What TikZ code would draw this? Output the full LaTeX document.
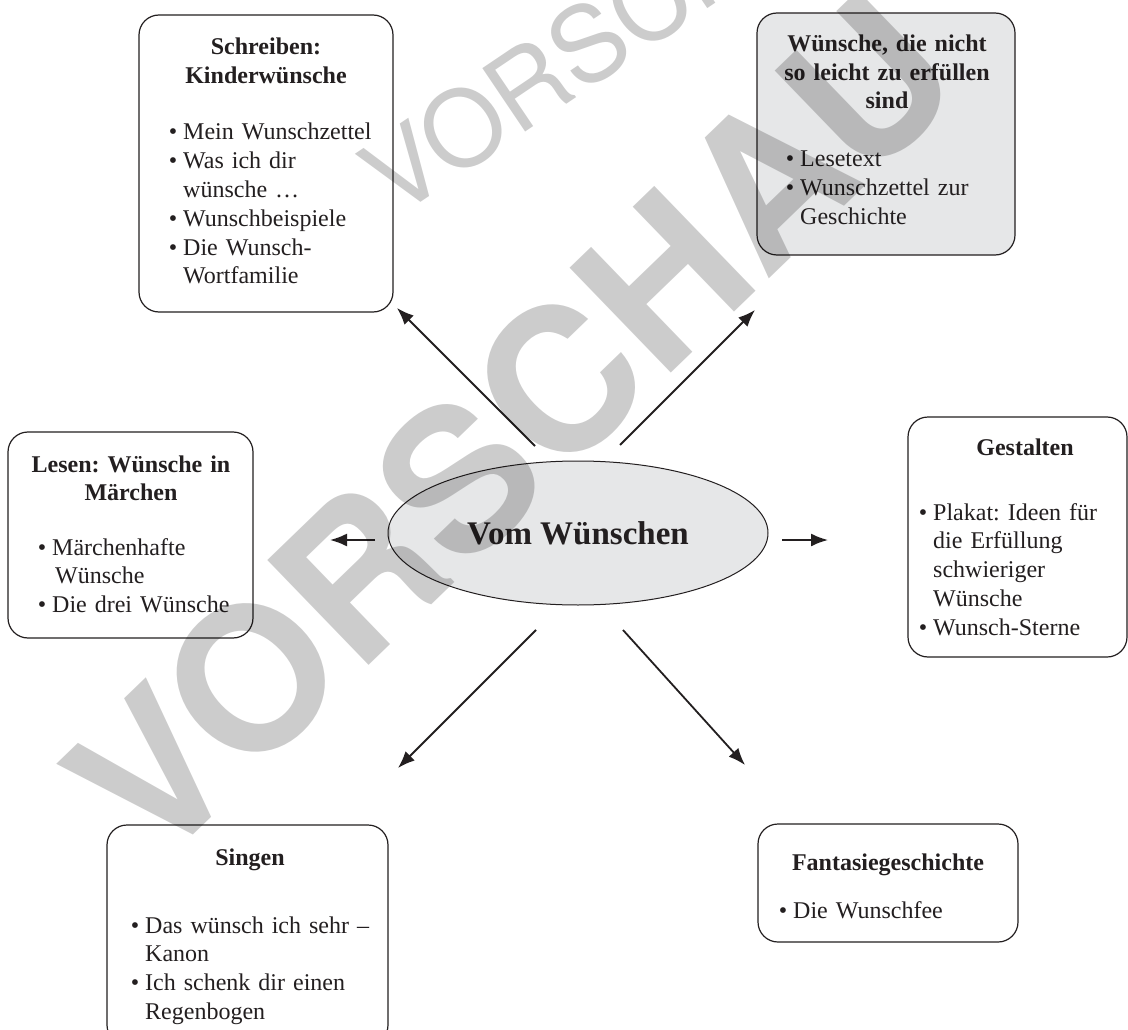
\documentclass[tikz,border=0pt]{standalone}
\usepackage{fontspec}
\setmainfont{Liberation Serif}
\newfontfamily\wmfont{TeX Gyre Heros}
\usetikzlibrary{arrows.meta,shapes.geometric}
\definecolor{boxgray}{RGB}{230,231,232}
\definecolor{ink}{RGB}{35,31,32}
\frenchspacing
\newcommand\bul{\makebox[14.4pt][l]{•}}
\newcommand\ind{\hspace*{14.4pt}}
\tikzset{
  box/.style={draw=ink, line width=1.2pt, rounded corners=20pt, inner sep=0pt},
  ttl/.style={font=\fontsize{24}{28.5}\selectfont\bfseries, align=center, anchor=base, inner sep=0pt, text width=#1},
  lst/.style={font=\fontsize{24}{28.8}\selectfont, align=left, anchor=base west, inner sep=0pt, text width=#1},
  arr/.style={draw=ink, line width=1.8pt, -{Latex[length=17pt,width=13pt]}},
  wm/.style={text=black, text opacity=0.2, inner sep=0pt}
}
\begin{document}
\begin{tikzpicture}[x=1pt,y=-1pt,text=ink]
\useasboundingbox (0,0) rectangle (1128,1030);
\clip (0,0) rectangle (1128,1030);
\fill[white] (0,0) rectangle (1128,1030);

% boxes
\node[box, minimum width=254pt, minimum height=297pt] (schreiben) at (266,163.5) {};
\node[box, fill=boxgray, minimum width=258pt, minimum height=242pt] (wuensche) at (886,134) {};
\node[box, minimum width=245pt, minimum height=206pt] (lesen) at (130.5,535) {};
\node[box, minimum width=219pt, minimum height=240pt] (gestalten) at (1017.5,537) {};
\node[box, minimum width=281pt, minimum height=220pt] (singen) at (247.5,935) {};
\node[box, minimum width=260pt, minimum height=118pt] (fantasie) at (888,883) {};

% centre
\node[ellipse, draw=ink, line width=1pt, fill=boxgray, minimum width=380pt, minimum height=144pt, inner sep=0pt,
      font=\fontsize{33}{36}\selectfont\bfseries] (mitte) at (578,533) {Vom Wünschen};

% texts
\node[ttl=240pt] (t1) at (266,55) {Schreiben:\\Kinderwünsche};
\node[lst=220pt] (l1) at (168.6,140) {\bul Mein Wunschzettel\\\bul Was ich dir\\\ind wünsche …\\\bul Wunschbeispiele\\\bul Die Wunsch-\\\ind Wortfamilie};

\node[ttl=250pt] (t2) at (887,52) {Wünsche, die nicht\\so leicht zu erfüllen\\sind};
\node[lst=220pt] (l2) at (785.6,167) {\bul Lesetext\\\bul Wunschzettel zur\\\ind Geschichte};

\node[ttl=240pt] (t3) at (131,472) {Lesen: Wünsche in\\Märchen};
\node[lst=220pt] (l3) at (37.6,555) {\bul Märchenhafte\\\ind\hspace*{3pt}Wünsche\\\bul Die drei Wünsche};

\node[ttl=200pt] (t4) at (1025,455) {Gestalten};
\node[lst=200pt] (l4) at (918.6,520) {\bul Plakat: Ideen für\\\ind die Erfüllung\\\ind schwieriger\\\ind Wünsche\\\bul Wunsch-Sterne};

\node[ttl=260pt] (t5) at (250,865) {Singen};
\node[lst=250pt] (l5) at (130.6,933) {\bul Das wünsch ich sehr –\\\ind Kanon\\\bul Ich schenk dir einen\\\ind Regenbogen};

\node[ttl=250pt] (t6) at (888,870) {Fantasiegeschichte};
\node[lst=220pt] (l6) at (778.6,918) {\bul Die Wunschfee};

% connectors
\coordinate (a1s) at (535,446); \coordinate (a1e) at (397,308);
\coordinate (a2s) at (620,445); \coordinate (a2e) at (755,310);
\coordinate (a3s) at (375,540); \coordinate (a3e) at (330,540);
\coordinate (a4s) at (782,540); \coordinate (a4e) at (828,540);
\coordinate (a5s) at (536,630); \coordinate (a5e) at (398,768);
\coordinate (a6s) at (623,630); \coordinate (a6e) at (745,765);
\draw[arr] (a1s) -- (a1e);
\draw[arr] (a2s) -- (a2e);
\draw[arr] (a3s) -- (a3e);
\draw[arr] (a4s) -- (a4e);
\draw[arr] (a5s) -- (a5e);
\draw[arr] (a6s) -- (a6e);

% watermark
\node[wm, rotate=44, font=\wmfont\bfseries\fontsize{200}{200}\selectfont] (wmbig) at (511,427) {VORSCHAU};
\node[wm, rotate=34, font=\wmfont\fontsize{105}{105}\selectfont] (wmsmall) at (617,24) {VORSCHAU};
\end{tikzpicture}
\end{document}
